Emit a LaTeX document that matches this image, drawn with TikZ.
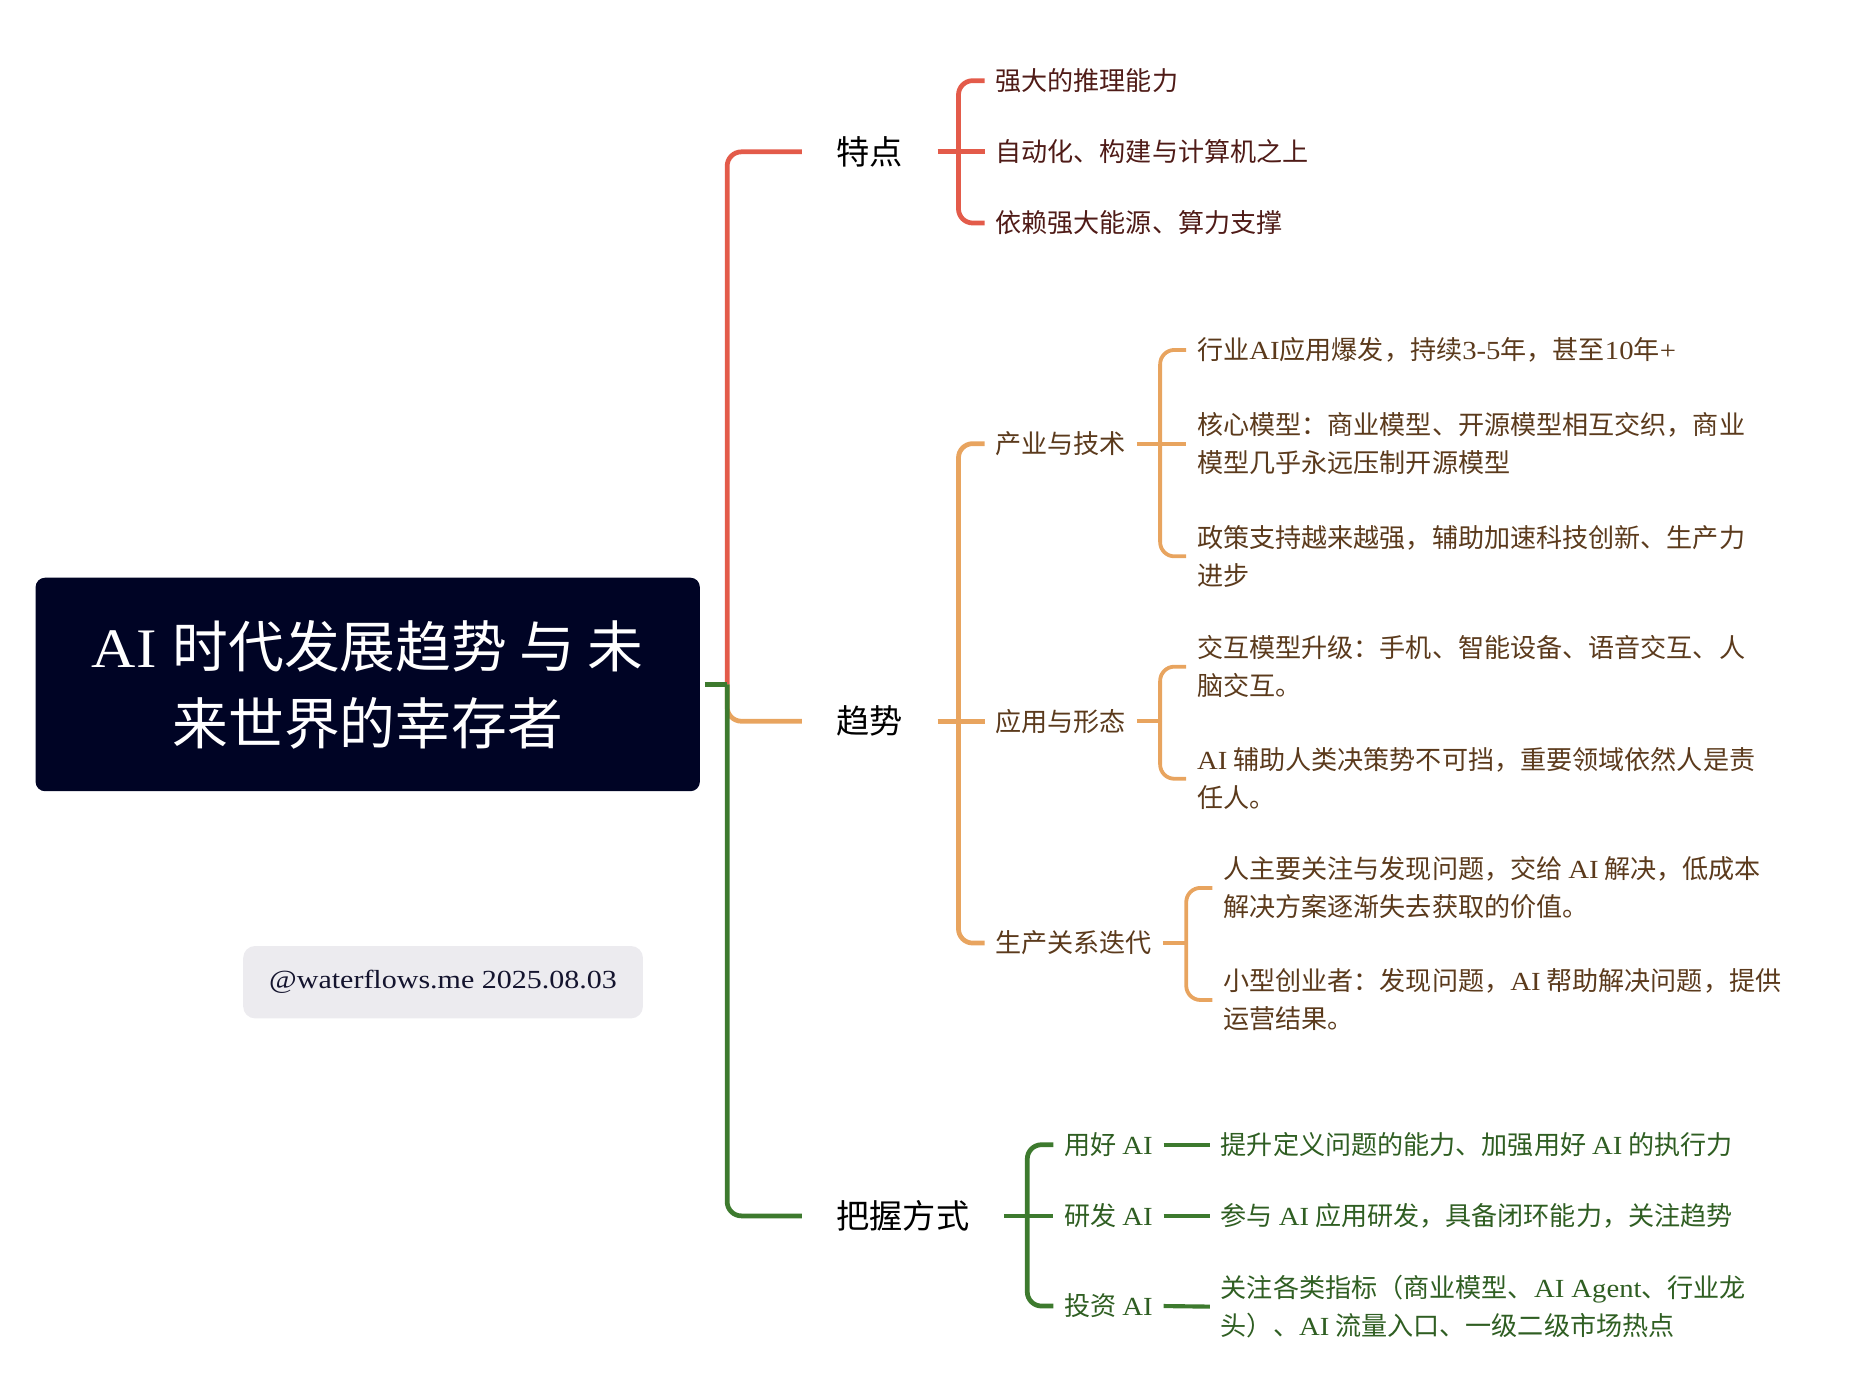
\documentclass[tikz,border=0pt]{standalone}
\usepackage{fontspec}
\setmainfont{Noto Sans CJK SC}
\newfontfamily\enfont[FakeStretch=1.1]{Liberation Serif}
\newfontfamily\wmfont[FakeStretch=1.15]{Liberation Serif}
\newcommand\EnT[1]{{\enfont #1}}
\usetikzlibrary{calc}
\definecolor{navy}{HTML}{000425}
\definecolor{cRed}{HTML}{E35B4A}
\definecolor{cOra}{HTML}{E8A45F}
\definecolor{cGre}{HTML}{3D7A2E}
\definecolor{tRed}{HTML}{4F1B17}
\definecolor{tOra}{HTML}{5B3A1C}
\definecolor{tGre}{HTML}{2F5E22}
\definecolor{wmfill}{HTML}{ECEBEF}
\definecolor{wmtext}{HTML}{14142E}
\tikzset{
  rootbox/.style={fill=navy, rounded corners=8pt, minimum width=560pt, minimum height=180pt,
    text=white, align=center, inner sep=0pt, font=\fontsize{47}{65}\selectfont},
  lone/.style={anchor=west, inner xsep=29pt, inner ysep=0pt, text=black, font=\fontsize{28}{34}\selectfont},
  ltwo/.style={anchor=west, inner xsep=9pt, inner ysep=0pt, align=left, font=\fontsize{22}{32}\selectfont},
  redL/.style={draw=cRed, line width=4pt, rounded corners=12pt},
  oraL/.style={draw=cOra, line width=4pt, rounded corners=12pt},
  oraT/.style={draw=cOra, line width=3.2pt, rounded corners=12pt},
  greL/.style={draw=cGre, line width=4pt, rounded corners=12pt},
  greT/.style={draw=cGre, line width=3.5pt},
  wm/.style={fill=wmfill, rounded corners=10pt, minimum width=337pt, minimum height=61pt,
    inner sep=0pt, text=wmtext, font=\wmfont\fontsize{22}{26}\selectfont}
}
\begin{document}
\begin{tikzpicture}[x=1pt,y=-1pt]
\useasboundingbox (0,0) rectangle (1568,1162);
% root
\node[rootbox] (root) at (310,577) {\EnT{AI}\hspace{3pt} 时代发展趋势 与 未\\来世界的幸存者};
\node[wm] (wm) at (373.5,828) {@waterflows.me 2025.08.03};
% level 1
\node[lone] (tedian) at (676,128) {特点};
\node[lone] (qushi) at (676,608) {趋势};
\node[lone] (bawo) at (676,1025) {把握方式};
% red children
\node[ltwo, text=tRed] (c11) at (830,68) {强大的推理能力};
\node[ltwo, text=tRed] (c12) at (830,128) {自动化、构建与计算机之上};
\node[ltwo, text=tRed] (c13) at (830,188) {依赖强大能源、算力支撑};
% orange children
\node[ltwo, text=tOra] (a1) at (830,374) {产业与技术};
\node[ltwo, text=tOra] (a2) at (830,608) {应用与形态};
\node[ltwo, text=tOra] (a3) at (830,795) {生产关系迭代};
\node[ltwo, text=tOra] (a11) at (1000,295) {行业\EnT{AI}应用爆发，持续\EnT{3-5}年，甚至\EnT{10}年\EnT{+}};
\node[ltwo, text=tOra] (a12) at (1000,374) {核心模型：商业模型、开源模型相互交织，商业\\模型几乎永远压制开源模型};
\node[ltwo, text=tOra] (a13) at (1000,469) {政策支持越来越强，辅助加速科技创新、生产力\\进步};
\node[ltwo, text=tOra] (a21) at (1000,562) {交互模型升级：手机、智能设备、语音交互、人\\脑交互。};
\node[ltwo, text=tOra] (a22) at (1000,656.5) {\EnT{AI} 辅助人类决策势不可挡，重要领域依然人是责\\任人。};
\node[ltwo, text=tOra] (a31) at (1022,748.5) {人主要关注与发现问题，交给 \EnT{AI} 解决，低成本\\解决方案逐渐失去获取的价值。};
\node[ltwo, text=tOra] (a32) at (1022,843) {小型创业者：发现问题，\EnT{AI} 帮助解决问题，提供\\运营结果。};
% green children
\node[ltwo, text=tGre] (g1) at (888,965) {用好 \EnT{AI}};
\node[ltwo, text=tGre] (g2) at (888,1025) {研发 \EnT{AI}};
\node[ltwo, text=tGre] (g3) at (888,1101) {投资 \EnT{AI}};
\node[ltwo, text=tGre] (l1) at (1020,965) {提升定义问题的能力、加强用好 \EnT{AI} 的执行力};
\node[ltwo, text=tGre] (l2) at (1020,1025) {参与 \EnT{AI} 应用研发，具备闭环能力，关注趋势};
\node[ltwo, text=tGre] (l3) at (1020,1101.5) {关注各类指标（商业模型、\EnT{AI Agent}、行业龙\\头）、\EnT{AI} 流量入口、一级二级市场热点};
% junction coordinates
\coordinate (J) at (613,577);
\coordinate (k1) at (808,128);
\coordinate (k2) at (808,608);
\coordinate (k3) at (978,374);
\coordinate (k4) at (978,608);
\coordinate (k5) at (1000,795);
\coordinate (k6) at (866,1025);
\coordinate (rs) at ($(root.east)+(4,0)$);
% root connectors
\draw[oraL] (J) |- (qushi.west);
\draw[redL] (J) |- (tedian.west);
\draw[greL, rounded corners=0pt] (rs) -- (J);
\draw[greL] (J) |- (bawo.west);
% red bracket
\draw[redL] (tedian.east) -- (k1);
\draw[redL] (k1) |- (c11.west);
\draw[redL] (k1) -- (c12.west);
\draw[redL] (k1) |- (c13.west);
% orange bracket
\draw[oraL] (qushi.east) -- (k2);
\draw[oraL] (k2) |- (a1.west);
\draw[oraL] (k2) -- (a2.west);
\draw[oraL] (k2) |- (a3.west);
\draw[oraT] (a1.east) -- (k3);
\draw[oraT] (k3) |- (a11.west);
\draw[oraT] (k3) -- (a12.west);
\draw[oraT] (k3) |- (a13.west);
\draw[oraT] (a2.east) -- (k4);
\draw[oraT] (k4) |- (a21.west);
\draw[oraT] (k4) |- (a22.west);
\draw[oraT] (a3.east) -- (k5);
\draw[oraT] (k5) |- (a31.west);
\draw[oraT] (k5) |- (a32.west);
% green bracket
\draw[greL] (bawo.east) -- (k6);
\draw[greL] (k6) |- (g1.west);
\draw[greL] (k6) -- (g2.west);
\draw[greL] (k6) |- (g3.west);
\draw[greT] (g1.east) -- (l1.west);
\draw[greT] (g2.east) -- (l2.west);
\draw[greT] (g3.east) -- (l3.west);
\end{tikzpicture}
\end{document}
